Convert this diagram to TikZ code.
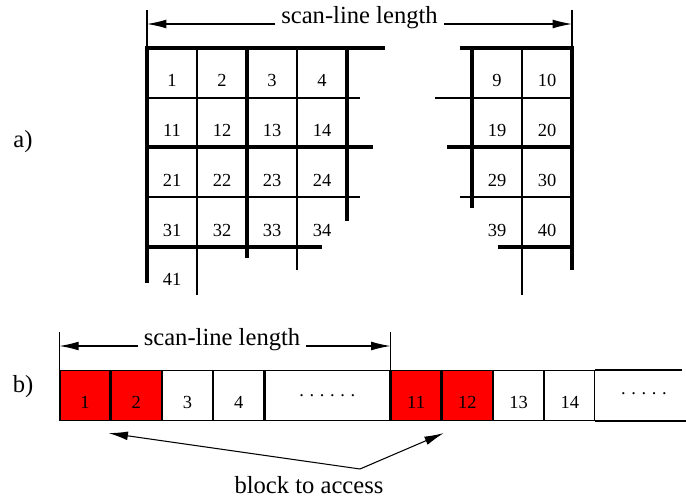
\documentclass[tikz,border=0pt]{standalone}
\usepackage{fontspec}
\setmainfont{Liberation Serif}
\usepackage{xcolor}
\usetikzlibrary{calc, arrows.meta, positioning}

\newcommand{\sdot}{.\hspace{3.2pt}}

\begin{document}
\begin{tikzpicture}[x=0.02cm, y=-0.02cm, >={Latex[length=11pt,width=5pt]},
    gridln/.style={line width=0.6pt},
    wall/.style={line width=2.3pt},
    num/.style={font=\fontsize{10.5}{12}\selectfont, inner sep=0pt, text height=15pt, text depth=0pt},
    lbl/.style={font=\fontsize{14}{16}\selectfont},
    blk/.style={draw, line width=0.7pt, minimum width=1cm, minimum height=1cm, inner sep=0pt,
        font=\fontsize{10.5}{12}\selectfont, text height=14.5pt, text depth=0pt},
    hit/.style={blk, fill=red}]
    \useasboundingbox (0,0) rectangle (686,499);

    % 1. Khung a): lưới ô (phần trái)
    \draw[gridln] (197,48) -- (197,295);
    \draw[gridln] (297,48) -- (297,270);
    \draw[gridln] (147,98) -- (360,98);
    \draw[gridln] (147,197) -- (360,197);
    \draw[wall] (145,48) -- (385,48);
    \draw[wall] (147,46) -- (147,283);
    \draw[wall] (247,48) -- (247,258);
    \draw[wall] (347,48) -- (347,221);
    \draw[wall] (147,147) -- (373,147);
    \draw[wall] (147,247) -- (322,247);

    % 2. Lưới ô (phần phải)
    \draw[gridln] (522,48) -- (522,295);
    \draw[gridln] (435,98) -- (572,98);
    \draw[gridln] (460,197) -- (572,197);
    \draw[wall] (460,48) -- (574,48);
    \draw[wall] (472,48) -- (472,208);
    \draw[wall] (572,46) -- (572,270);
    \draw[wall] (447,147) -- (572,147);
    \draw[wall] (498,247) -- (572,247);

    % 3. Đánh số các ô
    \foreach \r in {0,...,3} {
        \foreach \c [evaluate=\c as \n using int(10*\r+\c)] in {1,...,4}
            \node[num] (c\n) at ({122+50*\c},{73+50*\r}) {\n};
        \foreach \c [evaluate=\c as \n using int(10*\r+\c+8)] in {1,2}
            \node[num] (c\n) at ({447+50*\c},{73+50*\r}) {\n};
    }
    \node[num] (c41) at (172,272) {41};

    % 4. Chiều dài dòng quét (trên)
    \coordinate (aL) at (147,10);
    \coordinate (aR) at (572,10);
    \draw[gridln] (aL) -- ++(0,38);
    \draw[gridln] (aR) -- ++(0,38);
    \node[lbl, anchor=base] (lenA) at (359.5,24) {scan-line length};
    \draw[->, gridln] (lenA.base west) -- (lenA.base west -| aL);
    \draw[->, gridln] (lenA.base east) -- (lenA.base east -| aR);
    \node[lbl] (partA) at (23,142) {a)};

    % 5. Khung b): các khối liên tiếp trong bộ nhớ
    \node[hit] (b1) at (85,395.5) {1};
    \node[hit, right=0pt of b1] (b2) {2};
    \node[blk, right=0pt of b2] (b3) {3};
    \node[blk, right=0pt of b3] (b4) {4};
    \node[blk, right=0pt of b4, minimum width=2.5cm, text height=1pt] (b5) {\sdot\sdot\sdot\sdot\sdot.};
    \node[hit, right=0pt of b5] (b11) {11};
    \node[hit, right=0pt of b11] (b12) {12};
    \node[blk, right=0pt of b12] (b13) {13};
    \node[blk, right=0pt of b13] (b14) {14};
    \draw[line width=0.7pt] (b14.north east) -- ++(87,0);
    \draw[line width=0.7pt] (b14.south east) -- ++(101,0);
    \node[font=\fontsize{10.5}{12}\selectfont, inner sep=0pt] (b15) at (644,394) {\sdot\sdot\sdot\sdot.};
    \node[lbl] (partB) at (23,387) {b)};

    % 6. Chiều dài dòng quét (dưới)
    \draw[gridln] (b1.north west) -- ++(0,-38) coordinate (bL);
    \draw[gridln] (b11.north west) -- ++(0,-38) coordinate (bR);
    \node[lbl, anchor=base] (lenB) at (222,346) {scan-line length};
    \draw[->, gridln] (lenB.base west) -- (lenB.base west -| bL);
    \draw[->, gridln] (lenB.base east) -- (lenB.base east -| bR);

    % 7. Khối cần truy cập
    \node[lbl, anchor=base] (acc) at (309,494) {block to access};
    \coordinate (apex) at (360,469);
    \draw[->, gridln] (apex) -- ($(b2.south west)+(-2,12)$);
    \draw[->, gridln] (apex) -- ($(b12.south west)+(2,12)$);
\end{tikzpicture}
\end{document}
